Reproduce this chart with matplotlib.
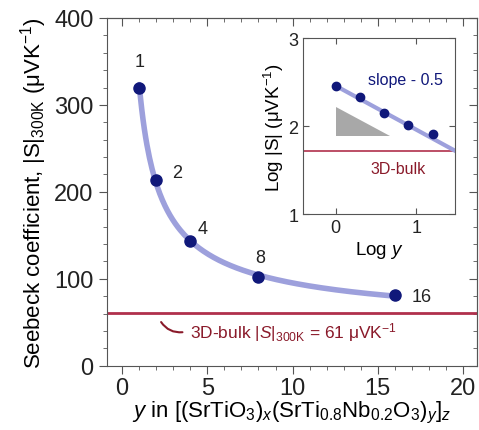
import numpy as np
import matplotlib
matplotlib.use("Agg")
import matplotlib.pyplot as plt
from matplotlib.patches import Polygon

plt.rcParams['font.family'] = ['Liberation Sans', 'DejaVu Sans']
plt.rcParams['mathtext.fontset'] = 'custom'
plt.rcParams['mathtext.rm'] = 'Liberation Sans'
plt.rcParams['mathtext.it'] = 'Liberation Sans:italic'

# main data
y_vals = [1, 2, 4, 8, 16]
seebeck = [320, 214, 144, 102, 81]
bulk = 61

# inset data (log-log)
log_y = [0.0, 0.301, 0.602, 0.903, 1.204]
log_s = [2.46, 2.33, 2.15, 2.01, 1.91]
fit_start = 2.46
fit_slope = -0.5
bulk_log = 1.72

navy = '#10187a'
curve_c = '#9da0dc'
red = '#b0304c'
txt_red = '#8a1a2a'
spine_c = '#555555'

fig = plt.figure(figsize=(4.79, 4.31), dpi=100)
ax = fig.add_axes([0.223, 0.149, 0.772, 0.807])

# smooth curve through the data (quadratic fit in log-log)
p = np.polyfit(np.log(y_vals), np.log(seebeck), 2)
xx = np.linspace(1, 16, 200)
ax.plot(xx, np.exp(np.polyval(p, np.log(xx))), color=curve_c, lw=4, solid_capstyle='round', zorder=2)
ax.axhline(bulk, color=red, lw=2, zorder=1)
ax.plot(y_vals, seebeck, 'o', color=navy, ms=8, zorder=3)

lab_pos = [(1, 350, '1'), (3.2, 222, '2'), (4.7, 158, '4'), (8.1, 125, '8'), (17.6, 80, '16')]
for lx, ly, t in lab_pos:
    ax.text(lx, ly, t, fontsize=13, ha='center', va='center', color='#222222')

ax.annotate('', xy=(3.7, 39), xytext=(2.2, 53),
            arrowprops=dict(arrowstyle='-', color=txt_red, lw=1.5,
                            connectionstyle='arc3,rad=0.35'))
ax.text(4.0, 39, r'3D-bulk |$S$|$_{\mathrm{300K}}$ = 61 μVK$^{-1}$', fontsize=12.5,
        color=txt_red, va='center', ha='left')

ax.set_xlim(-0.9, 20.8)
ax.set_ylim(0, 400)
ax.set_xticks([0, 5, 10, 15, 20])
ax.set_yticks([0, 100, 200, 300, 400])
ax.set_xticks(np.arange(0, 21, 1), minor=True)
ax.set_yticks(np.arange(0, 401, 20), minor=True)
ax.tick_params(which='both', direction='out', colors=spine_c,
               labelcolor='#222222', labelsize=17)
ax.tick_params(which='major', length=6)
ax.tick_params(which='minor', length=3)
ax.tick_params(axis='x', pad=2)
for s in ax.spines.values():
    s.set_color(spine_c)

# inward ticks on top and right
top = ax.secondary_xaxis('top')
top.set_xticks([0, 5, 10, 15, 20])
top.set_xticks(np.arange(0, 21, 1), minor=True)
top.set_xticklabels([])
right = ax.secondary_yaxis('right')
right.set_yticks([0, 100, 200, 300, 400])
right.set_yticks(np.arange(0, 401, 20), minor=True)
right.set_yticklabels([])
for sec in (top, right):
    sec.tick_params(which='both', direction='in', colors=spine_c)
    sec.tick_params(which='major', length=6)
    sec.tick_params(which='minor', length=3)
    for s in sec.spines.values():
        s.set_color(spine_c)

ax.set_xlabel(r'$y$ in [(SrTiO$_3$)$_x$(SrTi$_{0.8}$Nb$_{0.2}$O$_3$)$_y$]$_z$', fontsize=16, labelpad=0)
ax.set_ylabel(r'Seebeck coefficient, |S|$_{\mathrm{300K}}$ (μVK$^{-1}$)', fontsize=16, labelpad=4)

# inset
ins = fig.add_axes([0.633, 0.501, 0.317, 0.408])
xf = np.array([0, 1.5])
ins.plot(xf, fit_start + fit_slope * xf, color=curve_c, lw=3, zorder=2)
ins.axhline(bulk_log, color=red, lw=1.2, zorder=1)
ins.plot(log_y, log_s, 'o', color=navy, ms=6, zorder=3)
ins.add_patch(Polygon([(0, 2.22), (0, 1.89), (0.67, 1.89)], closed=True,
                      facecolor='#a8a8a8', edgecolor='none'))
ins.text(0.86, 2.53, 'slope - 0.5', color=navy, fontsize=11.5, ha='center', va='center')
ins.text(0.77, 1.52, '3D-bulk', color=txt_red, fontsize=11.5, ha='center', va='center')
ins.set_xlim(-0.4, 1.48)
ins.set_ylim(1, 3)
ins.set_xticks([0, 1])
ins.set_yticks([1, 2, 3])
ins.tick_params(direction='in', top=True, right=True, colors=spine_c,
                labelcolor='#222222', labelsize=13, length=4)
for s in ins.spines.values():
    s.set_color(spine_c)
ins.set_xlabel(r'Log $y$', fontsize=13.5, labelpad=2)
ins.set_ylabel(r'Log |S| (μVK$^{-1}$)', fontsize=13.5, labelpad=2)

fig.savefig('out.png', dpi=100)
